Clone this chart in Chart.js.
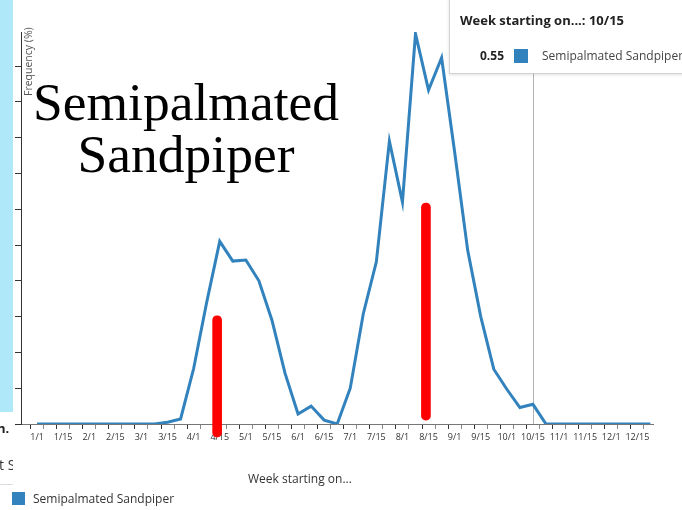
<!DOCTYPE html>
<html>
<head>
<meta charset="utf-8">
<script src="https://cdn.jsdelivr.net/npm/chart.js@4.4.0/dist/chart.umd.min.js"></script>
<style>
  html, body { margin: 0; padding: 0; background: #fff; }
  #wrap { position: relative; width: 682px; height: 510px; overflow: hidden; font-family: "Open Sans", sans-serif; color: #333; }
  #chart { position: absolute; left: 0; top: 0; }
  .abs { position: absolute; white-space: nowrap; }
  #stripe { left: 0; top: 0; width: 13px; height: 412px; background: #aee8f9; }
  #frag1 { left: -3px; top: 419px; font-size: 13px; font-weight: bold; color: #222; }
  #frag2 { left: 0; top: 455px; width: 13px; overflow: hidden; font-size: 14px; color: #333; }
  #frag2 span { position: relative; left: -1px; }
  #sep { left: 0; top: 484px; width: 13px; height: 1px; background: #ddd; }
  #ytitle { left: 21px; top: 96px; font-size: 10.5px; color: #555; transform-origin: 0 0; transform: rotate(-90deg); }
  #xtitle { left: 248px; top: 470px; font-size: 12px; color: #333; }
  #legend { left: 12px; top: 490px; font-size: 12px; color: #333; }
  #legend i { display: inline-block; width: 13px; height: 13px; background: #3182bd; vertical-align: -2px; margin-right: 8px; }
  #big { left: -2px; top: 76px; width: 376px; text-align: center; font-family: "Liberation Serif", "Times New Roman", serif; font-size: 53.5px; line-height: 52px; color: #000; }
  #tip { left: 449px; top: -2px; width: 245px; height: 74px; background: #fff; border: 1px solid #d2d2d2; box-shadow: 0 1px 3px rgba(0,0,0,0.12); }
  #tip .tt { position: absolute; left: 10px; top: 12px; font-size: 13px; font-weight: bold; color: #222; }
  #tip .val { position: absolute; left: 30px; top: 48px; font-size: 12px; font-weight: bold; color: #222; }
  #tip .sw { position: absolute; left: 64px; top: 50px; width: 14px; height: 14px; background: #3182bd; }
  #tip .nm { position: absolute; left: 92px; top: 48px; font-size: 12px; color: #444; }
</style>
</head>
<body>
<div id="wrap">
  <canvas id="chart" width="682" height="510"></canvas>
  <div class="abs" id="stripe"></div>
  <div class="abs" id="frag1">n.</div>
  <div class="abs" id="frag2"><span>t S</span></div>
  <div class="abs" id="sep"></div>
  <div class="abs" id="ytitle">Frequency (%)</div>
  <div class="abs" id="xtitle">Week starting on...</div>
  <div class="abs" id="legend"><i></i>Semipalmated Sandpiper</div>
  <div class="abs" id="big">Semipalmated<br>Sandpiper</div>
  <div class="abs" id="tip">
    <div class="tt">Week starting on...: <span id="tipWeek"></span></div>
    <div class="val" id="tipVal"></div>
    <div class="sw"></div>
    <div class="nm">Semipalmated Sandpiper</div>
  </div>
</div>
<script>
// tick labels, one for every second week (eBird uses 4 weeks per month)
const tickLabels = ['1/1', '1/15', '2/1', '2/15', '3/1', '3/15', '4/1', '4/15', '5/1', '5/15', '6/1', '6/15',
  '7/1', '7/15', '8/1', '8/15', '9/1', '9/15', '10/1', '10/15', '11/1', '11/15', '12/1', '12/15']

// frequency (%) per week, 48 weeks
const frequency = [
  0, 0, 0, 0, 0, 0, 0, 0, 0, 0,
  0.05, 0.14, 1.55, 3.4, 5.1, 4.55, 4.58, 4.0, 2.9, 1.42,
  0.28, 0.5, 0.11, 0, 1.0, 3.08, 4.53, 7.9, 6.2, 10.9,
  9.33, 10.23, 7.6, 4.85, 3.0, 1.53, 0.97, 0.46, 0.55, 0,
  0, 0, 0, 0, 0, 0, 0, 0
]

// red marks drawn over the chart (week position, bottom, top in %)
const markWeeks = [13.8, 29.8]
const markBottoms = [-0.36, 0.11]
const markTops = [3.02, 6.17]

const hoverWeek = 38

document.getElementById('tipWeek').textContent = tickLabels[hoverWeek / 2]
document.getElementById('tipVal').textContent = frequency[hoverWeek].toFixed(2)

const hoverLine = {
  id: 'hoverLine',
  beforeDatasetsDraw(chart) {
    const { ctx, chartArea, scales } = chart
    const x = Math.round(scales.x.getPixelForValue(hoverWeek)) + 0.5
    ctx.save()
    ctx.strokeStyle = '#b4b4b4'
    ctx.lineWidth = 1
    ctx.beginPath()
    ctx.moveTo(x, chartArea.top)
    ctx.lineTo(x, chartArea.bottom)
    ctx.stroke()
    ctx.restore()
  }
}

new Chart(document.getElementById('chart'), {
  type: 'line',
  data: {
    datasets: [
      {
        type: 'bar',
        label: 'marks',
        data: markWeeks.map((w, i) => ({ x: w, y: [markBottoms[i], markTops[i]] })),
        backgroundColor: '#ff0000',
        barThickness: 9,
        borderRadius: 5,
        borderSkipped: false,
        clip: false,
        order: 0
      },
      {
        type: 'line',
        label: 'Semipalmated Sandpiper',
        data: frequency.map((v, i) => ({ x: i, y: v })),
        borderColor: '#3182bd',
        borderWidth: 3,
        pointRadius: 0,
        tension: 0,
        order: 1
      }
    ]
  },
  options: {
    responsive: false,
    animation: false,
    events: [],
    layout: { padding: { top: 32, left: 15, right: 29, bottom: 0 } },
    plugins: { legend: { display: false }, tooltip: { enabled: false } },
    scales: {
      x: {
        type: 'linear',
        min: -1.23,
        max: 47.2,
        offset: false,
        afterBuildTicks: (scale) => { scale.ticks = frequency.map((_, i) => ({ value: i })) },
        afterFit: (scale) => { scale.height = 86 },
        ticks: {
          autoSkip: false,
          maxRotation: 0,
          padding: 3,
          color: '#333',
          font: { family: '"Open Sans", sans-serif', size: 9 },
          callback: (v) => v % 2 === 0 ? tickLabels[v / 2] : ''
        },
        grid: {
          drawOnChartArea: false,
          tickLength: 5,
          color: (c) => (c.tick && c.tick.value % 2 === 0) ? '#333' : '#888'
        },
        border: { color: '#777' }
      },
      y: {
        min: 0,
        max: 10.95,
        afterFit: (scale) => { scale.width = 6 },
        ticks: { display: false, stepSize: 1, includeBounds: false },
        grid: { drawOnChartArea: false, tickLength: 6, color: '#333' },
        border: { color: '#333' }
      }
    }
  },
  plugins: [hoverLine]
})
</script>
</body>
</html>
